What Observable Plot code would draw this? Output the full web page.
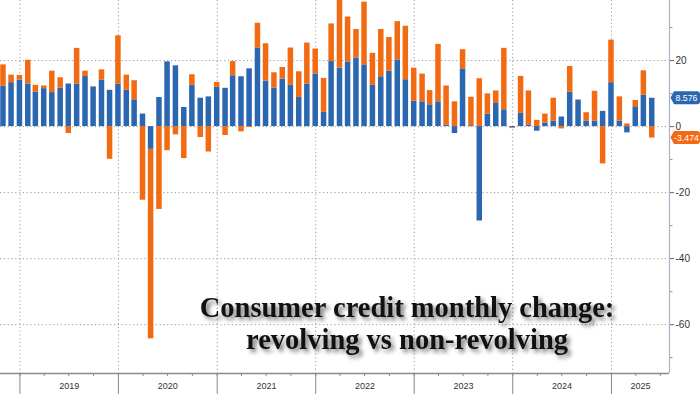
<!DOCTYPE html>
<html><head><meta charset="utf-8">
<script src="https://cdn.jsdelivr.net/npm/d3@7"></script>
<script src="https://cdn.jsdelivr.net/npm/@observablehq/plot@0.6"></script>
<style>body{margin:0;background:#fff;overflow:hidden}</style>
</head><body><div id="chart"></div>
<script>
// ---- data (USD bn, monthly change) ----
const firstMonth = "2018-10";
const lastMonth = "2025-05";
const nonRevolving = [
  12.2,13.3,14.1,12.9,10.4,11.5,10.3,11.7,12.9,12.9,
  15.2,12.0,14.1,11.0,12.9,11.0,8.1,3.8,-6.9,8.8,
  19.6,18.4,5.8,12.5,8.6,9.0,11.9,11.6,15.4,15.1,
  17.5,23.7,13.8,11.7,14.4,12.5,8.8,12.8,15.9,4.3,
  19.7,17.7,19.6,20.8,18.7,12.5,15.1,16.8,20.2,14.2,
  7.7,7.5,6.6,7.5,0.4,-2.1,17.5,0.3,-28.6,3.8,
  7.0,5.1,-0.4,4.0,0.5,-1.4,1.1,1.7,2.9,10.4,
  8.0,1.7,1.7,4.6,13.3,1.7,-1.9,6.0,9.5,8.576
];
const revolving = [
  6.5,2.3,1.4,7.2,2.1,0.8,6.5,3.1,-2.1,10.8,
  1.6,0.1,3.1,-9.9,14.6,4.6,5.8,-22.3,-57.4,-25.1,
  -7.3,-2.5,-9.7,3.2,-3.3,-7.7,1.5,-2.7,4.3,-1.6,
  -0.3,7.6,11.3,4.6,3.5,11.3,7.8,12.5,7.6,10.3,
  11.4,31.4,13.6,8.6,19.0,9.7,14.3,10.2,11.6,16.2,
  10.0,8.4,4.3,17.4,11.9,7.5,5.8,8.6,14.5,6.1,
  3.8,18.6,-0.2,11.2,10.3,1.9,2.7,6.9,-0.7,7.8,
  0.1,2.5,9.0,-11.3,12.9,7.3,0.8,1.9,7.4,-3.474
];
const seriesNames = ["Non-revolving", "Revolving"];
const seriesColors = ["#2b67b0", "#f26a12"];
const years = [2019, 2020, 2021, 2022, 2023, 2024, 2025];
const yMajorTicks = [-60, -40, -20, 0, 20];
const yMinorTicks = [-70, -50, -30, -10, 10, 30];
const yDomain = [-74.8, 38.2];
const xDomainStr = ["2018-10-21", "2025-08-04"];
const titleText = "Consumer credit monthly change:\nrevolving vs non-revolving";

// ---- build rows ----
const parseM = d3.utcParse("%Y-%m");
const monthStarts = d3.utcMonth.range(parseM(firstMonth), d3.utcMonth.offset(parseM(lastMonth), 1));
const xDomain = xDomainStr.map(d3.utcParse("%Y-%m-%d"));
const rows = [];
monthStarts.forEach((m, i) => {
  const end = d3.utcMonth.offset(m, 1); // plotted at month end
  const x1 = d3.utcDay.offset(end, -15), x2 = d3.utcDay.offset(end, 15);
  rows.push({x1, x2, series: seriesNames[0], value: nonRevolving[i]});
  rows.push({x1, x2, series: seriesNames[1], value: revolving[i]});
});
const yearStarts = years.map(y => new Date(Date.UTC(y, 0, 1)));
const quarterTicks = d3.utcMonth.every(3).range(xDomain[0], xDomain[1]);
const yearLabels = years.map(y => {
  const a = Math.max(+new Date(Date.UTC(y, 0, 1)), +xDomain[0]);
  const b = Math.min(+new Date(Date.UTC(y + 1, 0, 1)), +xDomain[1]);
  return {year: String(y), mid: new Date((a + b) / 2)};
});
const last = nonRevolving.length - 1;
const tagData = [
  {value: nonRevolving[last], color: seriesColors[0]},
  {value: revolving[last], color: seriesColors[1]}
];

function lastValueTags(index, scales, values, dims) {
  const g = d3.create("svg:g");
  const xr = dims.width - dims.marginRight;
  const W = dims.width;
  for (const t of tagData) {
    const y = scales.y(t.value);
    const h = 6.5;
    g.append("path")
      .attr("d", `M${xr + 1.5},${y} L${xr + 5},${y - h} H${W - 3} Q${W},${y - h} ${W},${y - h + 3} V${y + h - 3} Q${W},${y + h} ${W - 3},${y + h} H${xr + 5} Z`)
      .attr("fill", t.color);
    g.append("text")
      .attr("x", (xr + 4 + W) / 2)
      .attr("y", y)
      .attr("dy", "0.35em")
      .attr("text-anchor", "middle")
      .attr("fill", "#fff")
      .attr("font-size", 8.8)
      .attr("font-family", "Liberation Sans, Arial, sans-serif")
      .text(d3.format(".3f")(t.value).replace("−", "-"));
  }
  return g.node();
}

const chart = Plot.plot({
  width: 700,
  height: 394,
  marginLeft: 0,
  marginRight: 31,
  marginTop: 0,
  marginBottom: 21,
  style: {fontFamily: "Liberation Sans, Arial, sans-serif", background: "#fff", overflow: "visible"},
  x: {type: "utc", domain: xDomain, axis: null},
  y: {domain: yDomain, axis: null},
  color: {domain: seriesNames, range: seriesColors},
  marks: [
    Plot.gridY(yMajorTicks, {stroke: "#9a9a9a", strokeOpacity: 1, strokeDasharray: "1.2,2.6"}),
    Plot.gridX(yearStarts, {stroke: "#9a9a9a", strokeOpacity: 1, strokeDasharray: "1.2,2.6"}),
    Plot.rectY(rows, Plot.stackY({x1: "x1", x2: "x2", y: "value", fill: "series", insetLeft: 1.3, insetRight: 1.3, clip: true})),
    Plot.text([titleText], {
      text: d => d, frameAnchor: "bottom", lineAnchor: "bottom", dx: 72, dy: -25,
      fontFamily: "Liberation Serif, Times New Roman, serif", fontWeight: "bold", fontSize: 28.5,
      lineHeight: 1.1, fill: "#111",
      render: (i, s, v, d, c, next) => { const g = next(i, s, v, d, c); g.style.filter = "drop-shadow(3px 3px 2.2px rgba(0,0,0,0.55))"; return g; }
    }),
    Plot.ruleY([yDomain[0]], {stroke: "#8a8a8a", strokeWidth: 1.5}),
    Plot.ruleX([xDomain[1]], {stroke: "#a9b3c2", strokeWidth: 1.2}),
    Plot.axisX(quarterTicks, {anchor: "bottom", tickSize: 3, tickFormat: () => "", stroke: "#8a8a8a", label: null}),
    Plot.axisX(yearStarts, {anchor: "bottom", tickSize: 21, tickFormat: () => "", stroke: "#8a8a8a", label: null}),
    Plot.text(yearLabels, {x: "mid", text: "year", frameAnchor: "bottom", dy: 15, fontSize: 9, fill: "#333"}),
    Plot.axisY(yMinorTicks, {anchor: "right", tickSize: 2.5, tickFormat: () => "", stroke: "#8a95a6", label: null}),
    Plot.axisY(yMajorTicks, {anchor: "right", tickSize: 4, tickPadding: 2, fontSize: 10, fill: "#333", stroke: "#5a6a80", label: null,
      tickFormat: d => String(d)}),
    lastValueTags
  ]
});
document.getElementById("chart").appendChild(chart);
</script>
</body></html>
